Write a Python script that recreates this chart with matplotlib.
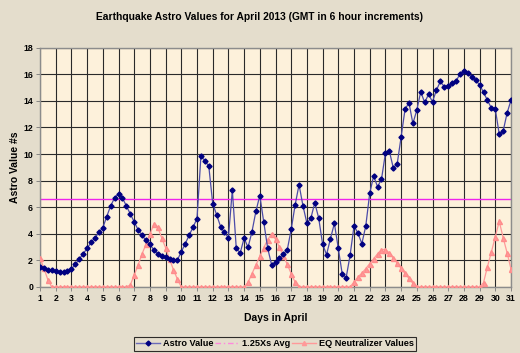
import numpy as np
import matplotlib
matplotlib.use('Agg')
import matplotlib.pyplot as plt
from matplotlib.lines import Line2D

plt.rcParams['font.family'] = ['Liberation Sans', 'DejaVu Sans']

#%% data (6 hour steps, day 1.00 .. 31.00)
days = np.arange(1, 31.01, 0.25)

astro = [1.5, 1.4, 1.3, 1.25, 1.18, 1.1, 1.15, 1.2, 1.35, 1.7, 2.1, 2.5,
         2.9, 3.35, 3.7, 4.1, 4.45, 5.3, 6.1, 6.7, 7.0, 6.7, 6.1, 5.5,
         4.9, 4.3, 3.9, 3.5, 3.2, 2.8, 2.5, 2.3, 2.22, 2.1, 2.03, 2.03,
         2.65, 3.25, 3.9, 4.5, 5.15, 9.85, 9.5, 9.1, 6.28, 5.43, 4.55, 4.1,
         3.7, 7.3, 2.93, 2.55, 3.68, 2.98, 4.15, 5.68, 6.88, 4.9, 2.93, 1.68,
         1.85, 2.16, 2.48, 2.8, 4.33, 6.17, 7.7, 6.1, 4.8, 5.16, 6.34, 5.19,
         3.23, 2.43, 3.63, 4.79, 2.9, 0.98, 0.7, 2.38, 4.59, 4.06, 3.26, 4.59,
         7.04, 8.35, 7.54, 8.1, 10.05, 10.23, 8.97, 9.25, 11.28, 13.36, 13.86, 12.3,
         13.3, 14.69, 13.88, 14.49, 13.93, 14.81, 15.46, 15.06, 15.11, 15.31, 15.51, 16.0,
         16.24, 16.07, 15.81, 15.56, 15.21, 14.64, 14.04, 13.46, 13.38, 11.5, 11.73, 13.08,
         14.06]

eq_neutralizer = [2.2, 1.4, 0.55, 0, 0, 0, 0, 0, 0, 0, 0, 0,
                  0, 0, 0, 0, 0, 0, 0, 0, 0, 0, 0, 0.15,
                  0.9, 1.65, 2.5, 3.2, 3.95, 4.75, 4.5, 3.7, 2.95, 2.1, 1.3, 0.6,
                  0, 0, 0, 0, 0, 0, 0, 0, 0, 0, 0, 0,
                  0, 0, 0, 0, 0, 0.35, 1.0, 1.65, 2.3, 2.95, 3.55, 4.0,
                  3.6, 3.0, 2.35, 1.7, 1.0, 0.35, 0, 0, 0, 0, 0, 0,
                  0, 0, 0, 0, 0, 0, 0, 0, 0.38, 0.75, 1.05, 1.38,
                  1.76, 2.12, 2.5, 2.82, 2.82, 2.55, 2.18, 1.8, 1.4, 1.02, 0.65, 0.28,
                  0, 0, 0, 0, 0, 0, 0, 0, 0, 0, 0, 0,
                  0, 0, 0, 0, 0, 0.33, 1.53, 2.63, 3.78, 4.94, 3.71, 2.58,
                  1.35]

avg_level = 6.6   # 1.25Xs Avg

#%% plot
fig = plt.figure(figsize=(5.2, 3.53), dpi=100, facecolor='#E4DDCC')
ax = fig.add_axes([40/520, 1-287/353, 471/520, (287-47.7)/353])
ax.set_facecolor('#FDF1DB')

ax.plot(days, [avg_level]*len(days), color='#EE22EE', lw=1.0, zorder=2)
ax.plot(days, eq_neutralizer, color='#FF9999', lw=0.9, marker='^',
        ms=3.6, mec='#FF8C8C', mfc='#FF9999', zorder=3)
ax.plot(days, astro, color='#4B4BA8', lw=0.9, marker='D',
        ms=2.6, mec='#000080', mfc='#000080', zorder=4)

ax.set_xlim(1, 31)
ax.set_ylim(0, 18)
ax.set_xticks(range(1, 32))
ax.set_yticks(range(0, 19, 2))
ax.grid(True, color='#2A2A2A', lw=0.8)
ax.set_axisbelow(True)
for s in ax.spines.values():
    s.set_color('#8C8C8C')
    s.set_linewidth(1.0)
ax.tick_params(axis='both', length=3, width=0.6, color='#777777', pad=2,
               labelsize=6.3)
for lab in ax.get_xticklabels() + ax.get_yticklabels():
    lab.set_fontweight('bold')

fig.text(0.5, 1-17/353, 'Earthquake Astro Values for April 2013 (GMT in 6 hour increments)',
         ha='center', va='center', fontsize=7.4, fontweight='bold')
ax.set_xlabel('Days in April', fontsize=7.5, fontweight='bold', labelpad=7)
ax.set_ylabel('Astro Value #s', fontsize=7.5, fontweight='bold', labelpad=2)

handles = [Line2D([], [], color='#6B6BB8', lw=1, marker='D', ms=2.5,
                  mfc='#000080', mec='#000080'),
           Line2D([], [], color='#FF88DD', lw=1, dashes=(4, 2, 1, 2)),
           Line2D([], [], color='#FF9999', lw=1, marker='^', ms=3,
                  mfc='#FF9999', mec='#FF9999')]
leg = fig.legend(handles, ['Astro Value', '1.25Xs Avg', 'EQ Neutralizer Values'],
                 loc='center', bbox_to_anchor=(275/520, 1-344/353), ncol=3,
                 fontsize=6.6, frameon=True, fancybox=False, handlelength=2.6,
                 columnspacing=0.2, handletextpad=0.3, borderpad=0.3)
leg.get_frame().set_edgecolor('black')
leg.get_frame().set_facecolor('#E4DDCC')
leg.get_frame().set_linewidth(0.8)
for t in leg.get_texts():
    t.set_fontweight('bold')

fig.savefig('out.png', dpi=100, facecolor=fig.get_facecolor())
